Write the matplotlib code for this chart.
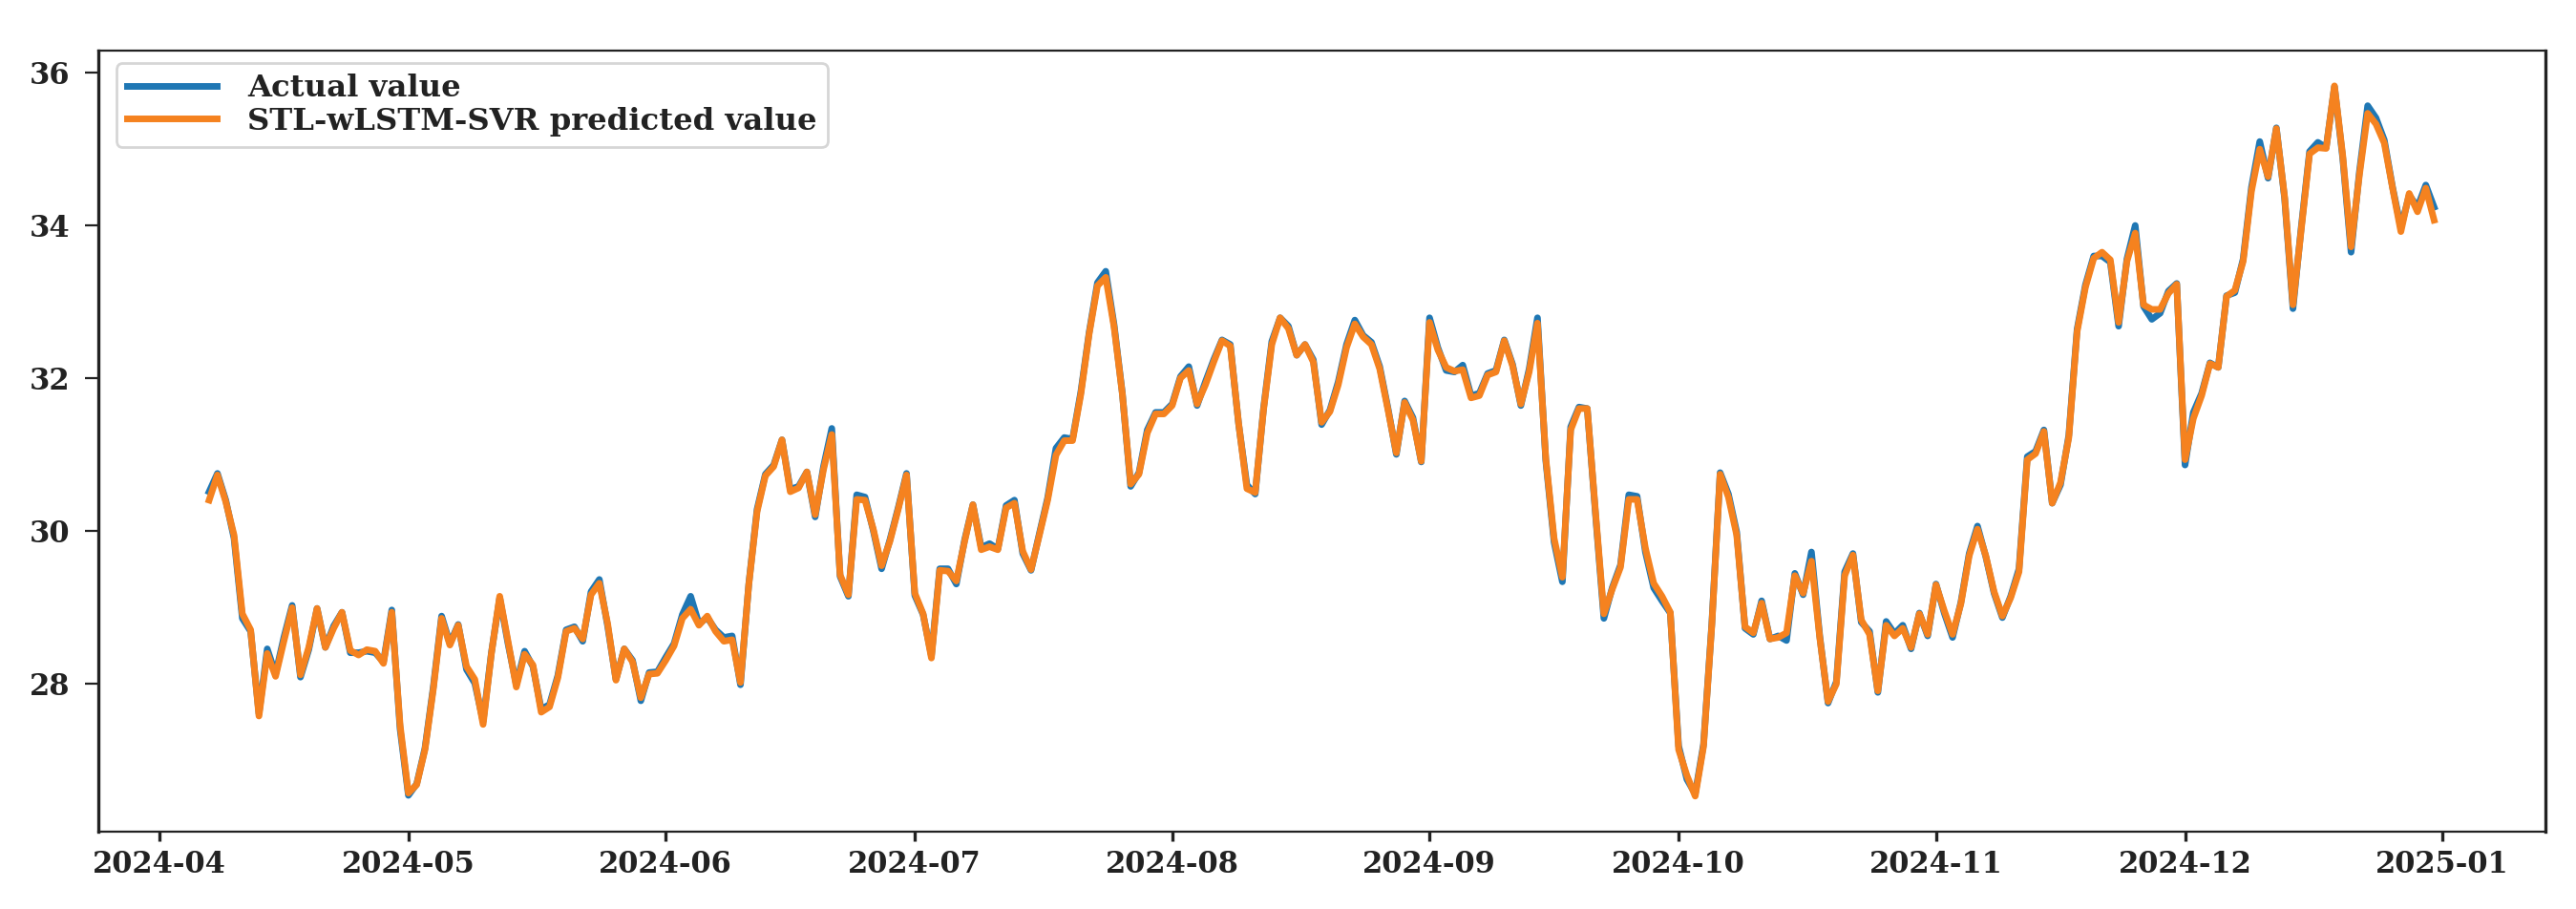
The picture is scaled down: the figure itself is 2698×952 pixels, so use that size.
import numpy as np
import pandas as pd
import matplotlib
matplotlib.use('Agg')
import matplotlib.pyplot as plt
import matplotlib.dates as mdates

plt.rcParams['font.family'] = ['DejaVu Serif']
plt.rcParams['font.weight'] = 'bold'

# Daily series, 2024-04-07 .. 2024-12-31 (month by month)
dates = pd.date_range('2024-04-07', '2024-12-31', freq='D')

actual = [
    # Apr
    30.51, 30.75, 30.40, 29.90, 28.85, 28.68, 27.60, 28.45, 28.12, 28.60, 29.02, 28.08,
    28.44, 28.98, 28.47, 28.75, 28.93, 28.40, 28.40, 28.42, 28.40, 28.28, 28.96, 27.40,
    # May
    26.53, 26.68, 27.15, 27.95, 28.88, 28.52, 28.77, 28.18, 28.00, 27.50, 28.40, 29.12,
    28.52, 27.98, 28.42, 28.22, 27.66, 27.72, 28.10, 28.70, 28.74, 28.55, 29.20, 29.36,
    28.75, 28.05, 28.45, 28.30, 27.77, 28.14, 28.15,
    # Jun
    28.34, 28.52, 28.90, 29.14, 28.78, 28.86, 28.70, 28.60, 28.62, 27.98, 29.30, 30.28,
    30.74, 30.86, 31.19, 30.54, 30.58, 30.77, 30.18, 30.84, 31.34, 29.40, 29.14, 30.47,
    30.44, 30.00, 29.50, 29.88, 30.30, 30.75,
    # Jul
    29.15, 28.90, 28.36, 29.50, 29.50, 29.30, 29.88, 30.34, 29.78, 29.83, 29.76, 30.33,
    30.40, 29.70, 29.48, 29.96, 30.43, 31.08, 31.22, 31.20, 31.82, 32.60, 33.25, 33.40,
    32.70, 31.80, 30.58, 30.76, 31.32, 31.55, 31.55,
    # Aug
    31.66, 32.02, 32.15, 31.64, 31.95, 32.24, 32.50, 32.44, 31.40, 30.60, 30.48, 31.60,
    32.48, 32.79, 32.68, 32.30, 32.44, 32.24, 31.39, 31.58, 31.95, 32.44, 32.76, 32.56,
    32.47, 32.15, 31.60, 31.00, 31.70, 31.48, 30.90,
    # Sep
    32.79, 32.40, 32.10, 32.08, 32.17, 31.77, 31.80, 32.06, 32.10, 32.50, 32.18, 31.64,
    32.12, 32.79, 30.92, 29.85, 29.33, 31.36, 31.62, 31.60, 30.20, 28.85, 29.25, 29.55,
    30.47, 30.45, 29.72, 29.25, 29.08, 28.92,
    # Oct
    27.18, 26.74, 26.55, 27.20, 28.78, 30.76, 30.48, 29.98, 28.72, 28.64, 29.08, 28.58,
    28.62, 28.56, 29.44, 29.16, 29.72, 28.62, 27.74, 28.02, 29.46, 29.70, 28.80, 28.68,
    27.88, 28.81, 28.65, 28.76, 28.45, 28.92, 28.62,
    # Nov
    29.30, 28.92, 28.60, 29.06, 29.70, 30.06, 29.66, 29.18, 28.86, 29.14, 29.50, 30.97,
    31.04, 31.32, 30.36, 30.60, 31.25, 32.64, 33.22, 33.60, 33.60, 33.52, 32.68, 33.56,
    34.00, 32.94, 32.77, 32.85, 33.14, 33.24,
    # Dec
    30.86, 31.55, 31.80, 32.20, 32.14, 33.08, 33.12, 33.56, 34.50, 35.10, 34.62, 35.28,
    34.35, 32.91, 33.98, 34.97, 35.09, 35.02, 35.82, 34.88, 33.65, 34.70, 35.57, 35.41,
    35.12, 34.50, 33.97, 34.40, 34.24, 34.53, 34.24,
]

predicted = [
    # Apr
    30.40, 30.73, 30.38, 29.94, 28.91, 28.70, 27.57, 28.39, 28.09, 28.55, 28.99, 28.11,
    28.47, 28.98, 28.47, 28.72, 28.93, 28.43, 28.37, 28.44, 28.42, 28.26, 28.93, 27.45,
    # May
    26.56, 26.67, 27.13, 27.92, 28.85, 28.50, 28.76, 28.22, 28.05, 27.46, 28.39, 29.14,
    28.55, 27.95, 28.38, 28.24, 27.62, 27.69, 28.07, 28.68, 28.72, 28.58, 29.16, 29.31,
    28.78, 28.04, 28.45, 28.28, 27.81, 28.12, 28.13,
    # Jun
    28.30, 28.49, 28.85, 28.97, 28.76, 28.88, 28.68, 28.55, 28.57, 28.01, 29.29, 30.25,
    30.72, 30.84, 31.19, 30.51, 30.56, 30.77, 30.21, 30.80, 31.26, 29.42, 29.16, 30.41,
    30.40, 30.02, 29.54, 29.86, 30.28, 30.73,
    # Jul
    29.18, 28.91, 28.33, 29.48, 29.47, 29.34, 29.86, 30.34, 29.75, 29.79, 29.75, 30.30,
    30.36, 29.73, 29.49, 29.94, 30.40, 30.99, 31.18, 31.18, 31.79, 32.58, 33.21, 33.32,
    32.67, 31.79, 30.61, 30.74, 31.28, 31.53, 31.53,
    # Aug
    31.64, 32.00, 32.10, 31.66, 31.91, 32.21, 32.49, 32.42, 31.41, 30.55, 30.50, 31.58,
    32.44, 32.79, 32.65, 32.30, 32.44, 32.21, 31.42, 31.56, 31.91, 32.40, 32.71, 32.54,
    32.44, 32.12, 31.58, 31.02, 31.68, 31.45, 30.91,
    # Sep
    32.73, 32.37, 32.14, 32.09, 32.11, 31.74, 31.77, 32.04, 32.08, 32.49, 32.16, 31.66,
    32.08, 32.72, 30.95, 29.90, 29.39, 31.32, 31.60, 31.60, 30.23, 28.91, 29.23, 29.52,
    30.41, 30.41, 29.77, 29.31, 29.14, 28.93,
    # Oct
    27.13, 26.79, 26.52, 27.17, 28.76, 30.74, 30.44, 29.94, 28.74, 28.66, 29.05, 28.58,
    28.60, 28.66, 29.41, 29.18, 29.60, 28.60, 27.76, 27.99, 29.41, 29.68, 28.83, 28.64,
    27.90, 28.76, 28.62, 28.72, 28.47, 28.91, 28.64,
    # Nov
    29.29, 28.95, 28.64, 29.04, 29.67, 30.02, 29.67, 29.20, 28.88, 29.12, 29.46, 30.93,
    31.01, 31.30, 30.36, 30.63, 31.22, 32.61, 33.19, 33.57, 33.65, 33.55, 32.73, 33.53,
    33.90, 32.96, 32.90, 32.90, 33.11, 33.23,
    # Dec
    30.93, 31.47, 31.77, 32.19, 32.14, 33.07, 33.15, 33.53, 34.45, 35.00, 34.64, 35.27,
    34.37, 32.96, 33.95, 34.94, 35.02, 35.01, 35.83, 34.91, 33.72, 34.66, 35.47, 35.33,
    35.08, 34.49, 33.92, 34.42, 34.18, 34.49, 34.07,
]

y_ticks = [28, 30, 32, 34, 36]

fig = plt.figure(figsize=(13.49, 4.76), dpi=200)
ax = fig.add_axes([0.038, 0.0851, 0.9501, 0.8595])

ax.plot(dates, actual, color='#1f77b4', lw=2.5, label='Actual value')
ax.plot(dates, predicted, color='#f5821f', lw=2.5, label='STL-wLSTM-SVR predicted value')

ax.xaxis.set_major_locator(mdates.MonthLocator())
ax.xaxis.set_major_formatter(mdates.DateFormatter('%Y-%m'))
ax.set_yticks(y_ticks)

ax.tick_params(axis='x', labelsize=11, length=3.5, width=1.2, pad=3.5, colors='#222222')
ax.tick_params(axis='y', labelsize=11, length=5.2, width=0.8, pad=5.2, colors='#222222')
for side in ['left', 'right']:
    ax.spines[side].set_linewidth(1.2)
for side in ['top', 'bottom']:
    ax.spines[side].set_linewidth(0.8)
for s in ax.spines.values():
    s.set_color('#222222')

leg = ax.legend(loc='upper left', bbox_to_anchor=(0.0076, 0.9837), borderaxespad=0,
                fontsize=11.6, handlelength=2.9, handletextpad=1.0,
                labelspacing=0.1, borderpad=0.35)
for t in leg.get_texts():
    t.set_color('#222222')

fig.savefig('out.png', dpi=200)
